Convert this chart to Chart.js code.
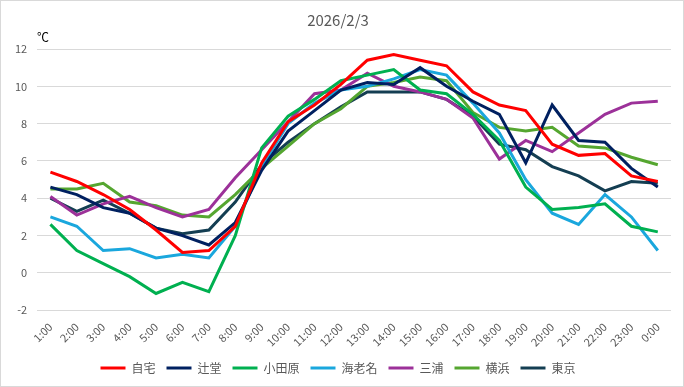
<!DOCTYPE html>
<html>
<head>
<meta charset="utf-8">
<script src="https://cdn.jsdelivr.net/npm/chart.js@4"></script>
<style>
  body { margin: 0; background: #fff; }
  #wrap { position: relative; width: 684px; height: 387px; box-sizing: border-box; border: 1px solid #d9d9d9; }
</style>
</head>
<body>
<div id="wrap"><canvas id="canvas"></canvas></div>
<script>
var hours = ['1:00','2:00','3:00','4:00','5:00','6:00','7:00','8:00','9:00','10:00','11:00','12:00',
             '13:00','14:00','15:00','16:00','17:00','18:00','19:00','20:00','21:00','22:00','23:00','0:00'];
var jitaku   = [5.4, 4.9, 4.2, 3.4, 2.3, 1.1, 1.2, 2.5, 5.9, 8.1, 9.0, 10.1, 11.4, 11.7, 11.4, 11.1, 9.7, 9.0, 8.7, 6.9, 6.3, 6.4, 5.2, 4.9];
var tsujido  = [4.6, 4.2, 3.5, 3.2, 2.4, 2.0, 1.5, 2.7, 5.5, 7.6, 8.7, 9.8, 10.2, 10.1, 11.0, 10.0, 9.2, 8.5, 5.9, 9.0, 7.1, 7.0, 5.6, 4.6];
var odawara  = [2.6, 1.2, 0.5, -0.2, -1.1, -0.5, -1.0, 2.0, 6.7, 8.4, 9.3, 10.3, 10.6, 10.9, 9.8, 9.6, 8.5, 7.1, 4.6, 3.4, 3.5, 3.7, 2.5, 2.2];
var ebina    = [3.0, 2.5, 1.2, 1.3, 0.8, 1.0, 0.8, 2.5, 5.7, 8.0, 9.1, 9.8, 10.0, 10.4, 10.9, 10.6, 9.1, 7.5, 5.0, 3.2, 2.6, 4.2, 3.0, 1.2];
var miura    = [4.1, 3.1, 3.7, 4.1, 3.5, 3.0, 3.4, 5.1, 6.6, 8.1, 9.6, 9.8, 10.7, 10.0, 9.7, 9.3, 8.3, 6.1, 7.1, 6.5, 7.5, 8.5, 9.1, 9.2];
var yokohama = [4.5, 4.5, 4.8, 3.8, 3.6, 3.1, 3.0, 4.2, 5.6, 6.8, 8.0, 8.8, 10.0, 10.2, 10.5, 10.3, 8.6, 7.8, 7.6, 7.8, 6.8, 6.7, 6.2, 5.8];
var tokyo    = [4.0, 3.3, 3.9, 3.2, 2.4, 2.1, 2.3, 3.8, 5.8, 7.0, 8.0, 8.9, 9.7, 9.7, 9.7, 9.3, 8.4, 6.9, 6.6, 5.7, 5.2, 4.4, 4.9, 4.8];

var names  = ['自宅','辻堂','小田原','海老名','三浦','横浜','東京'];
var series = [jitaku, tsujido, odawara, ebina, miura, yokohama, tokyo];
var colors = ['#ff0000','#002060','#00b050','#1aa7dd','#9c3199','#55a630','#143e52'];

var font = "'Noto Sans CJK JP', 'Noto Sans', sans-serif";
var gray = '#595959';

var unitLabel = {
    id: 'unitLabel',
    afterDraw: function (chart) {
        var ctx = chart.ctx;
        ctx.save();
        ctx.fillStyle = '#000';
        ctx.font = '12px ' + font;
        ctx.textAlign = 'left';
        ctx.textBaseline = 'middle';
        ctx.fillText('℃', 36, 36);
        ctx.restore();
    }
};

var ctx = document.getElementById('canvas').getContext('2d');
new Chart(ctx, {
    type: 'line',
    data: {
        labels: hours,
        datasets: names.map(function (n, i) {
            return {
                label: n,
                data: series[i],
                borderColor: colors[i],
                backgroundColor: colors[i],
                borderWidth: 3,
                pointRadius: 0,
                tension: 0
            };
        })
    },
    options: {
        responsive: true,
        maintainAspectRatio: false,
        animation: false,
        layout: { padding: { left: 4, right: 12, top: 0, bottom: 2 } },
        plugins: {
            title: {
                display: true,
                text: '2026/2/3',
                color: gray,
                font: { family: font, size: 15, weight: 'normal' },
                padding: { top: 10, bottom: 20 }
            },
            legend: {
                position: 'bottom',
                labels: {
                    color: gray,
                    font: { family: font, size: 12 },
                    usePointStyle: true,
                    pointStyle: 'line',
                    pointStyleWidth: 25,
                    boxHeight: 6,
                    padding: 11
                }
            },
            tooltip: { enabled: false }
        },
        scales: {
            x: {
                offset: true,
                grid: { display: false },
                border: { display: false },
                ticks: {
                    color: gray,
                    font: { family: font, size: 11 },
                    maxRotation: 45,
                    minRotation: 45,
                    autoSkip: false,
                    padding: 2
                }
            },
            y: {
                min: -2,
                max: 12,
                grid: { color: '#d9d9d9', drawTicks: false },
                border: { display: false },
                ticks: {
                    stepSize: 2,
                    color: gray,
                    font: { family: font, size: 11 },
                    padding: 10
                }
            }
        }
    },
    plugins: [unitLabel]
});
</script>
</body>
</html>
